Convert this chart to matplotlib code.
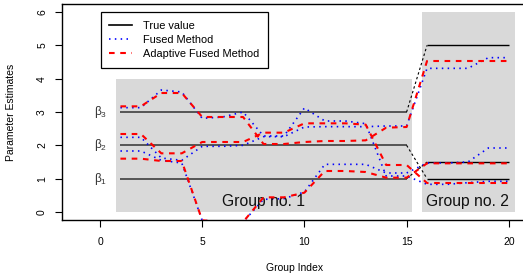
import matplotlib
matplotlib.use("Agg")
import matplotlib.pyplot as plt
from matplotlib.lines import Line2D
from matplotlib.patches import Rectangle

plt.rcParams['font.family'] = ['Liberation Sans', 'DejaVu Sans']
plt.rcParams['mathtext.fontset'] = 'custom'
plt.rcParams['mathtext.rm'] = 'Liberation Sans'
plt.rcParams['mathtext.it'] = 'Liberation Sans:italic'

# ---------------- data ----------------
group_index = [1, 2, 3, 4, 5, 6, 7, 8, 9, 10, 11, 12, 13, 14, 15, 16, 17, 18, 19, 20]

true_b3 = [3, 3, 3, 3, 3, 3, 3, 3, 3, 3, 3, 3, 3, 3, 3, 5, 5, 5, 5, 5]
true_b2 = [2, 2, 2, 2, 2, 2, 2, 2, 2, 2, 2, 2, 2, 2, 2, 1, 1, 1, 1, 1]
true_b1 = [1, 1, 1, 1, 1, 1, 1, 1, 1, 1, 1, 1, 1, 1, 1, 1.5, 1.5, 1.5, 1.5, 1.5]

fused_a = [3.13, 3.13, 3.66, 3.60, 2.81, 2.85, 3.00, 2.28, 2.28, 3.12, 2.73, 2.73, 2.65, 1.08, 1.08,
           0.83, 0.83, 0.88, 0.92, 0.92]
fused_b = [2.24, 2.24, 1.62, 1.55, 1.97, 1.97, 2.00, 2.26, 2.26, 2.55, 2.56, 2.56, 2.56, 2.58, 2.58,
           4.31, 4.31, 4.31, 4.63, 4.63]
fused_c = [1.83, 1.83, 1.55, 1.47, -0.25, -0.30, -0.30, 0.38, 0.40, 0.60, 1.43, 1.43, 1.43, 1.17, 1.17,
           1.47, 1.47, 1.50, 1.92, 1.92]

adapt_a = [3.17, 3.17, 3.57, 3.57, 2.85, 2.85, 2.85, 2.04, 2.04, 2.10, 2.13, 2.13, 2.15, 2.53, 2.55,
           4.53, 4.53, 4.53, 4.53, 4.53]
adapt_b = [2.34, 2.34, 1.76, 1.76, 2.10, 2.10, 2.10, 2.38, 2.38, 2.66, 2.66, 2.66, 2.62, 1.41, 1.41,
           0.87, 0.87, 0.87, 0.87, 0.87]
adapt_c = [1.60, 1.60, 1.53, 1.53, -0.25, -0.30, -0.30, 0.44, 0.44, 0.58, 1.23, 1.23, 1.20, 1.03, 1.03,
           1.46, 1.46, 1.46, 1.46, 1.46]

group_labels = ["Group no. 1", "Group no. 2"]
beta_labels = [r'$\mathrm{\beta}_3$', r'$\mathrm{\beta}_2$', r'$\mathrm{\beta}_1$']
x_ticks = [0, 5, 10, 15, 20]
y_ticks = [0, 1, 2, 3, 4, 5, 6]

# ---------------- figure ----------------
fig = plt.figure(figsize=(5.23, 2.80), dpi=100)
ax = fig.add_axes([0.1193, 0.2143, 0.8864, 0.7714])
ax.set_xlim(-1.84, 20.84)
ax.set_ylim(-0.24, 6.24)

# grey group regions
ax.add_patch(Rectangle((0.77, 0), 15.28 - 0.77, 4, facecolor='#d9d9d9', edgecolor='none', zorder=0))
ax.add_patch(Rectangle((15.75, 0), 20.28 - 15.75, 6, facecolor='#d9d9d9', edgecolor='none', zorder=0))

# true values
for tv in (true_b3, true_b2, true_b1):
    ax.plot(group_index[:15], tv[:15], color='#555555', lw=1.4, zorder=2, solid_capstyle='butt')
    ax.plot(group_index[15:], tv[15:], color='black', lw=1.0, zorder=2, solid_capstyle='butt')
    ax.plot(group_index[14:16], tv[14:16], color='black', lw=0.8, dashes=(2.2, 2.2), zorder=2)

# estimates
for fs in (fused_a, fused_b, fused_c):
    ax.plot(group_index, fs, color='blue', lw=1.2, dashes=(0.9, 2.6), zorder=3)
for ad in (adapt_a, adapt_b, adapt_c):
    ax.plot(group_index, ad, color='red', lw=1.5, dashes=(2.7, 2.7), zorder=4)

# beta labels
for lab, yv in zip(beta_labels, [true_b3[0], true_b2[0], true_b1[0]]):
    ax.text(0.05, yv, lab, fontsize=8.5, ha='center', va='center', color='#333333')

# group texts
ax.text(8.0, 0.31, group_labels[0], fontsize=11.3, ha='center', va='center', color='#111111')
ax.text(18.0, 0.31, group_labels[1], fontsize=11.3, ha='center', va='center', color='#111111')

# axes styling
ax.set_xticks(x_ticks)
ax.set_yticks(y_ticks)
ax.tick_params(axis='both', direction='out', length=5, width=0.8, labelsize=7.5, color='black')
ax.tick_params(axis='x', pad=7)
ax.tick_params(axis='y', pad=6)
for lbl in ax.get_yticklabels():
    lbl.set_rotation(90)
    lbl.set_va('center')
for sp in ax.spines.values():
    sp.set_linewidth(1.0)
ax.set_xlabel("Group Index", fontsize=7.5, labelpad=12)
ax.set_ylabel("Parameter Estimates", fontsize=7.5, labelpad=15)

handles = [Line2D([], [], color='black', lw=1.2),
           Line2D([], [], color='blue', lw=1.2, dashes=(0.9, 2.6)),
           Line2D([], [], color='red', lw=1.5, dashes=(2.7, 2.7))]
leg = ax.legend(handles, ["True value", "Fused Method", "Adaptive Fused Method"],
                loc='upper left', bbox_to_anchor=(0.03, 5.99), bbox_transform=ax.transData,
                borderaxespad=0, fontsize=7.9, frameon=True, fancybox=False, framealpha=1,
                edgecolor='black', handlelength=2.1, handletextpad=1.0, borderpad=0.8,
                labelspacing=0.35)
leg.get_frame().set_linewidth(0.9)

fig.savefig("out.png", dpi=100)
